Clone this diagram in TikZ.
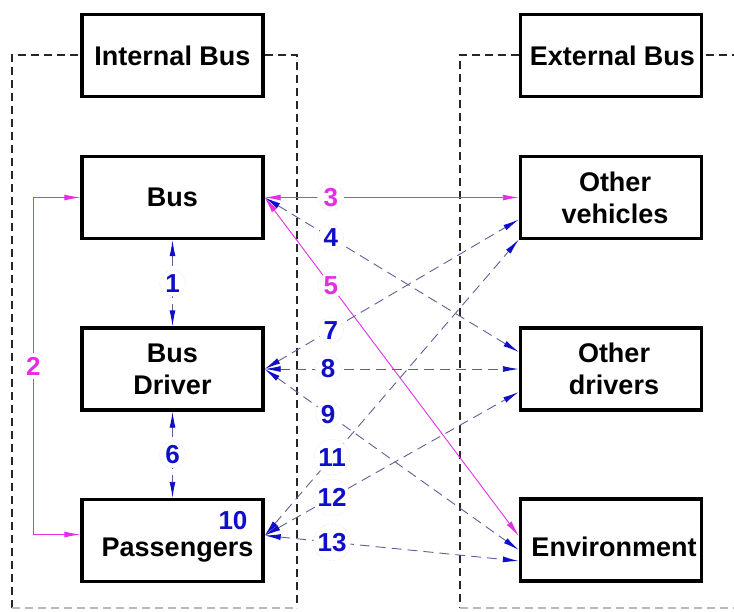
\documentclass[tikz,border=0pt]{standalone}
\usepackage{fontspec}
\setmainfont{Liberation Sans}
\usetikzlibrary{arrows.meta,calc}
\definecolor{mag}{RGB}{228,45,228}
\definecolor{lblue}{RGB}{15,15,200}
\definecolor{dline}{RGB}{95,95,150}
\tikzset{
  box/.style={draw=black,line width=3.4pt,fill=white,minimum width=181pt,minimum height=82pt,inner sep=1pt,align=center,
    font=\fontsize{27}{32}\selectfont\bfseries},
  lowtext/.style={text height=38pt,text depth=6pt},
  frame/.style={draw=black!85,line width=1.5pt,dash pattern=on 8pt off 5pt},
  lbl/.style={circle,fill=white,draw=gray!35,densely dotted,line width=0.4pt,inner sep=1pt,text=lblue,
    font=\fontsize{26}{26}\selectfont\bfseries},
  mlbl/.style={lbl,text=mag},
  dcon/.style={draw=dline,line width=0.9pt,dash pattern=on 10pt off 6pt,
    {Latex[length=16pt,width=6pt,color=lblue]}-{Latex[length=16pt,width=6pt,color=lblue]}},
  mcon/.style={draw=mag,line width=0.9pt,
    {Latex[length=16pt,width=6pt,color=mag]}-{Latex[length=16pt,width=6pt,color=mag]}}
}
\begin{document}
\begin{tikzpicture}[x=1pt,y=-1pt]
\useasboundingbox (0,0) rectangle (734,611);
% frames
\draw[frame] (12,608) -- (12,55) -- (297,55) -- (297,608);
\draw[frame] (740,55) -- (460,55) -- (460,608);
\draw[frame,draw=gray!55] (12,608) -- (297,608);
\draw[frame,draw=gray!55] (460,608) -- (740,608);
% boxes
\node[box] (ib)  at (172.5,55.5) {Internal Bus};
\node[box] (bus) at (172.5,197.5) {Bus};
\node[box] (drv) at (172.5,369) {Bus\\Driver};
\node[box,lowtext] (pas) at (172.5,540.5) {\hspace{10pt}Passengers};
\node[box] (eb)  at (611,55.5) {\hspace{3pt}External Bus};
\node[box] (ov)  at (611,197.5) {\hspace{8pt}Other\\\hspace{8pt}vehicles};
\node[box] (od)  at (611,369) {\hspace{6pt}Other\\\hspace{6pt}drivers};
\node[box,lowtext] (env) at (611,540) {\hspace{6pt}Environment};
\node[lbl,draw=none,fill=none] (ten) at (233,521) {10};
% internal links
\draw[dcon] (bus.south) -- (drv.north) node[lbl,pos=0.5] {1};
\draw[dcon] (drv.south) -- (pas.north) node[lbl,pos=0.5] {6};
\draw[mcon] (bus.west) -- ++(-47,0) |- ($(pas.west)+(0,-6)$) node[mlbl,pos=0.25] {2};
% bus links
\draw[mcon] (bus.east) -- (ov.west) node[mlbl,pos=0.26] {3};
\draw[dcon] (bus.east) -- ($(od.west)+(0,-17)$) node[lbl,pos=0.26] {4};
\draw[mcon] (bus.east) -- ($(env.west)+(0,-4)$) node[mlbl,pos=0.26] {5};
% driver links
\draw[dcon] (drv.east) -- ($(ov.west)+(0,22)$) node[lbl,pos=0.26] {7};
\draw[dcon] (drv.east) -- (od.west) node[lbl,pos=0.25] {8};
\draw[dcon] (drv.east) -- ($(env.west)+(0,10)$) node[lbl,pos=0.25] {9};
% passenger links
\draw[dcon] ($(pas.east)+(0,-5)$) -- ($(ov.west)+(0,42)$) node[lbl,pos=0.265] {11};
\draw[dcon] ($(pas.east)+(0,-5)$) -- ($(od.west)+(0,23)$) node[lbl,pos=0.265] {12};
\draw[dcon] ($(pas.east)+(0,-5)$) -- ($(env.west)+(0,21)$) node[lbl,pos=0.265] {13};
\end{tikzpicture}
\end{document}
